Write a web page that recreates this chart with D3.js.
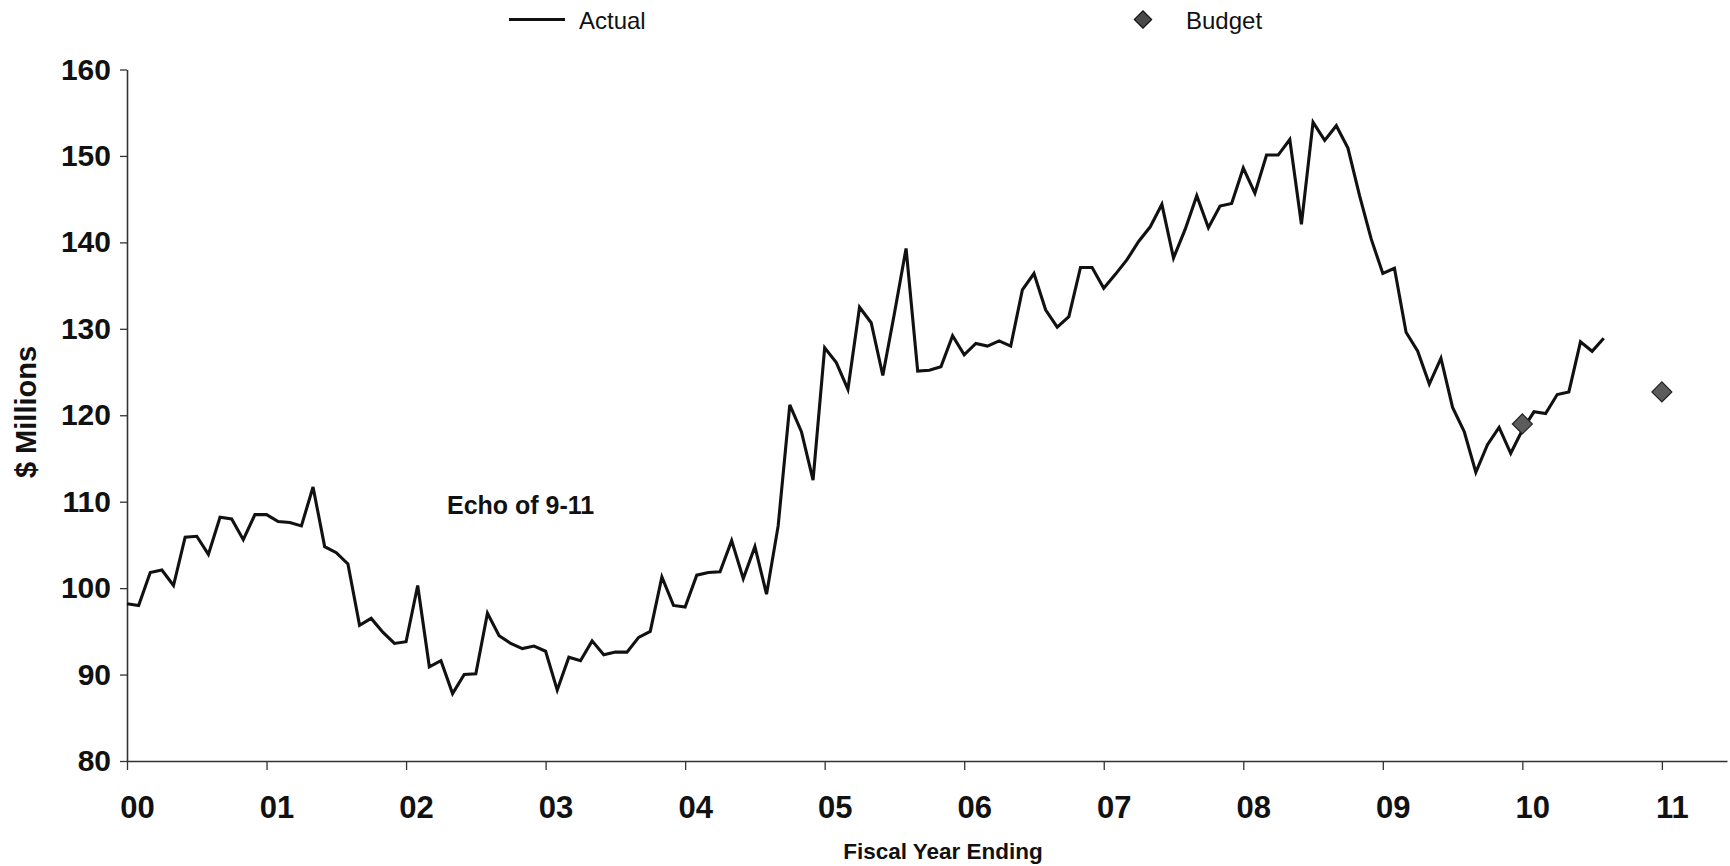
<!DOCTYPE html>
<html>
<head>
<meta charset="utf-8">
<script src="https://cdn.jsdelivr.net/npm/d3@7"></script>
<style>
  body { margin: 0; background: #fff; }
  svg { display: block; font-family: "Liberation Sans", Arial, sans-serif; }
</style>
</head>
<body>
<svg width="1730" height="866"></svg>
<script>
// monthly actuals, month 0 = start of FY00
let actualValues = [
  98.2, 98.0, 101.8, 102.1, 100.3, 105.9, 106.0, 103.9, 108.2, 108.0, 105.6, 108.5,
  108.5, 107.7, 107.6, 107.2, 111.7, 104.8, 104.1, 102.8, 95.7, 96.5, 94.9, 93.6,
  93.8, 100.3, 90.9, 91.6, 87.8, 90.0, 90.1, 97.1, 94.5, 93.6, 93.0, 93.3,
  92.7, 88.2, 92.0, 91.6, 93.9, 92.3, 92.6, 92.6, 94.3, 95.0, 101.3, 98.0,
  97.8, 101.5, 101.8, 101.9, 105.5, 101.1, 104.8, 99.3, 107.2, 121.2, 118.1, 112.5,
  127.8, 126.1, 123.0, 132.5, 130.7, 124.6, 131.8, 139.3, 125.1, 125.2, 125.6, 129.2,
  127.0, 128.3, 128.0, 128.6, 128.0, 134.5, 136.4, 132.2, 130.2, 131.4, 137.1, 137.1,
  134.7, 136.3, 138.0, 140.1, 141.8, 144.4, 138.2, 141.5, 145.4, 141.7, 144.2, 144.5,
  148.6, 145.7, 150.1, 150.1, 151.9, 142.1, 153.9, 151.8, 153.5, 150.9, 145.4, 140.4,
  136.4, 137.0, 129.6, 127.4, 123.6, 126.6, 120.9, 118.1, 113.4, 116.6, 118.6, 115.6,
  118.3, 120.4, 120.2, 122.4, 122.7, 128.5, 127.4, 128.9
];

let budgetMonths = [120, 132];
let budgetValues = [119.0, 122.7];

let xTickMonths = [0, 12, 24, 36, 48, 60, 72, 84, 96, 108, 120, 132];
let xTickLabels = ["00", "01", "02", "03", "04", "05", "06", "07", "08", "09", "10", "11"];
let yTicks = [80, 90, 100, 110, 120, 130, 140, 150, 160];

const svg = d3.select('svg');

const x = d3.scaleLinear().domain([0, 137.6]).range([127, 1727]);
const y = d3.scaleLinear().domain([80, 160]).range([761, 69.5]);

DrawAxes();
DrawSeries();
DrawLabels();

function DrawAxes(){
  const yAxis = svg.append('g')
    .attr('transform', `translate(${x(0)},0)`)
    .call(d3.axisLeft(y).tickValues(yTicks).tickSize(7).tickSizeOuter(0).tickPadding(9));
  yAxis.select('.domain').attr('stroke', '#333').attr('stroke-width', 1.6);
  yAxis.selectAll('.tick line').attr('stroke', '#333').attr('stroke-width', 1.3);
  yAxis.selectAll('.tick text')
    .attr('font-size', 30).attr('font-weight', 'bold').attr('fill', '#111')
    .attr('font-family', '"Liberation Sans", Arial, sans-serif');

  const xAxis = svg.append('g')
    .attr('transform', `translate(0,${y(80)})`)
    .call(d3.axisBottom(x).tickValues(xTickMonths).tickSize(9).tickSizeOuter(0)
      .tickFormat((d, i) => xTickLabels[i]));
  xAxis.select('.domain').attr('stroke', '#333').attr('stroke-width', 1.6);
  xAxis.selectAll('.tick line').attr('stroke', '#333').attr('stroke-width', 1.3);
  xAxis.selectAll('.tick text')
    .attr('font-size', 31).attr('font-weight', 'bold').attr('fill', '#111')
    .attr('font-family', '"Liberation Sans", Arial, sans-serif')
    .attr('x', 10).attr('y', 57).attr('dy', null);
}

function DrawSeries(){
  const line = d3.line()
    .x((d, i) => x(i))
    .y(d => y(d));

  svg.append('path')
    .datum(actualValues)
    .attr('fill', 'none')
    .attr('stroke', '#111')
    .attr('stroke-width', 3.1)
    .attr('stroke-linejoin', 'miter')
    .attr('d', line);

  svg.selectAll('.budget')
    .data(budgetValues)
    .join('path')
    .attr('class', 'budget')
    .attr('d', d3.symbol(d3.symbolSquare, 200)())
    .attr('transform', (d, i) => `translate(${x(budgetMonths[i])},${y(d)}) rotate(45)`)
    .attr('fill', '#5c5c5c')
    .attr('stroke', '#222')
    .attr('stroke-width', 1.2);
}

function DrawLabels(){
  // legend
  svg.append('line')
    .attr('x1', 509).attr('x2', 565).attr('y1', 19.5).attr('y2', 19.5)
    .attr('stroke', '#111').attr('stroke-width', 2.8);
  svg.append('text').text('Actual')
    .attr('x', 579).attr('y', 29).attr('font-size', 24).attr('fill', '#111');

  svg.append('path')
    .attr('d', d3.symbol(d3.symbolSquare, 150)())
    .attr('transform', 'translate(1143,19.5) rotate(45)')
    .attr('fill', '#4a4a4a').attr('stroke', '#111').attr('stroke-width', 1.2);
  svg.append('text').text('Budget')
    .attr('x', 1186).attr('y', 29).attr('font-size', 24).attr('fill', '#111');

  svg.append('text').text('Echo of 9-11')
    .attr('x', 447).attr('y', 514)
    .attr('font-size', 25).attr('font-weight', 'bold').attr('fill', '#111');

  svg.append('text').text('$ Millions')
    .attr('transform', 'translate(36,412) rotate(-90)')
    .attr('text-anchor', 'middle')
    .attr('font-size', 29).attr('font-weight', 'bold').attr('fill', '#111');

  svg.append('text').text('Fiscal Year Ending')
    .attr('x', 943).attr('y', 859)
    .attr('text-anchor', 'middle')
    .attr('font-size', 22.5).attr('font-weight', 'bold').attr('fill', '#111');
}
</script>
</body>
</html>
